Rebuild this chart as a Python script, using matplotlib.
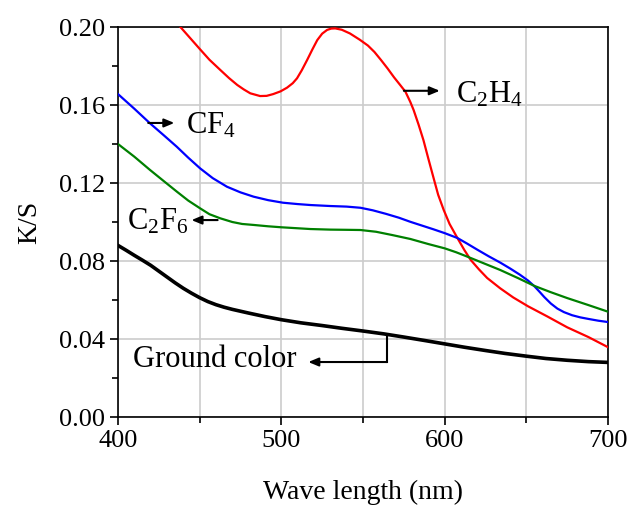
import matplotlib.pyplot as plt
from matplotlib.ticker import MultipleLocator

plt.rcParams['font.family'] = ['Liberation Serif', 'DejaVu Serif']
plt.rcParams['mathtext.fontset'] = 'custom'
plt.rcParams['mathtext.rm'] = 'Liberation Serif'
plt.rcParams['mathtext.it'] = 'Liberation Serif:italic'

# Ground color (black)
wl_ground = [400, 405, 410, 415, 420, 425, 430, 435, 440, 445, 450, 455, 460, 465, 470, 480, 490,
             500, 512, 525, 537, 550, 563, 575, 588, 600, 612, 625, 637, 650, 662, 675, 688, 700]
ks_ground = [0.0880, 0.0855, 0.0829, 0.0804, 0.0778, 0.0748, 0.0718, 0.0688, 0.0660, 0.0635,
             0.0612, 0.0592, 0.0576, 0.0563, 0.0552, 0.0533, 0.0515, 0.0499, 0.0483, 0.0469,
             0.0455, 0.0441, 0.0426, 0.0410, 0.0392, 0.0375, 0.0358, 0.0341, 0.0326, 0.0312,
             0.0300, 0.0291, 0.0284, 0.0280]

# C2H4 (red)
wl_c2h4 = [438, 444, 450, 456, 462.6, 468, 473, 477, 481, 487, 491, 495, 499.5, 503.5, 507,
           509.6, 512.5, 515.8, 519, 522, 525, 528, 530.5, 533, 537, 542, 548, 553, 557, 561,
           565, 569, 573, 576, 579, 581, 584, 587, 590, 593, 596, 599.4, 603, 607.8, 612, 616,
           621, 626, 634, 642, 651, 663, 675, 688, 700]
ks_c2h4 = [0.2002, 0.1945, 0.1888, 0.1832, 0.1780, 0.1738, 0.1703, 0.1680, 0.1660, 0.1646,
           0.1647, 0.1656, 0.1670, 0.1689, 0.1712, 0.1737, 0.1778, 0.1831, 0.1885, 0.1933,
           0.1966, 0.1985, 0.1992, 0.1993, 0.1986, 0.1967, 0.1935, 0.1905, 0.1872, 0.1831,
           0.1788, 0.1742, 0.1700, 0.1668, 0.1615, 0.1574, 0.1500, 0.1420, 0.1325, 0.1232,
           0.1140, 0.1062, 0.0990, 0.0918, 0.0857, 0.0805, 0.0757, 0.0713, 0.0660, 0.0613,
           0.0568, 0.0515, 0.0460, 0.0410, 0.0358]

# CF4 (blue)
wl_cf4 = [400, 410, 419.6, 428, 436, 443, 450.3, 458, 466.7, 475, 483, 492, 501, 510, 518, 530,
          540, 548.5, 556, 564, 572, 579, 586, 593, 600, 607.8, 614, 620, 627, 634, 640, 646,
          651, 655, 658, 661, 665, 669, 673, 678, 683, 688, 694, 700]
ks_cf4 = [0.1656, 0.1581, 0.1506, 0.1445, 0.1386, 0.1330, 0.1275, 0.1225, 0.1181, 0.1152,
          0.1130, 0.1112, 0.1099, 0.1092, 0.1087, 0.1082, 0.1079, 0.1073, 0.1060, 0.1042,
          0.1022, 0.1001, 0.0982, 0.0963, 0.0943, 0.0918, 0.0888, 0.0858, 0.0824, 0.0792,
          0.0762, 0.0730, 0.0700, 0.0670, 0.0643, 0.0615, 0.0582, 0.0556, 0.0538, 0.0522,
          0.0511, 0.0503, 0.0494, 0.0487]

# C2F6 (green)
wl_c2f6 = [400, 410, 419.6, 428, 436, 443, 450.3, 456, 462.6, 470, 476, 483, 492, 500, 517.8,
           530, 540, 548.5, 558, 568, 579, 590, 600, 607, 614, 624, 634, 645, 655, 665, 675,
           688, 700]
ks_c2f6 = [0.1400, 0.1335, 0.1267, 0.1210, 0.1156, 0.1110, 0.1070, 0.1040, 0.1019, 0.1000,
           0.0990, 0.0985, 0.0978, 0.0973, 0.0964, 0.0961, 0.0960, 0.0959, 0.0950, 0.0933,
           0.0913, 0.0887, 0.0865, 0.0845, 0.0822, 0.0788, 0.0754, 0.0712, 0.0672, 0.0640,
           0.0610, 0.0574, 0.0540]

fig = plt.figure(figsize=(6.3, 5.07), dpi=100)
ax = fig.add_axes([0.1873, 0.1775, 0.7778, 0.7692])

ax.plot(wl_c2h4, ks_c2h4, color='#ff0000', lw=1.6, zorder=3)
ax.plot(wl_cf4, ks_cf4, color='#0000ff', lw=1.6, zorder=3)
ax.plot(wl_c2f6, ks_c2f6, color='#008000', lw=1.6, zorder=3)
ax.plot(wl_ground, ks_ground, color='black', lw=2.6, zorder=3)

ax.set_xlim(400, 700)
ax.set_ylim(0, 0.20)
ax.xaxis.set_major_locator(MultipleLocator(100))
ax.xaxis.set_minor_locator(MultipleLocator(50))
ax.yaxis.set_major_locator(MultipleLocator(0.04))
ax.yaxis.set_minor_locator(MultipleLocator(0.02))
ax.yaxis.set_major_formatter(plt.FormatStrFormatter('%.2f'))
ax.tick_params(which='major', direction='out', length=6, width=1.2, labelsize=19)
ax.tick_params(which='minor', direction='out', length=4, width=1.2)
ax.tick_params(top=False, right=False)
ax.grid(True, which='major', color='#cccccc', lw=1.2, zorder=0)
ax.grid(True, which='minor', axis='x', color='#cccccc', lw=1.2, zorder=0)
ax.set_axisbelow(True)
for s in ax.spines.values():
    s.set_linewidth(1.2)

ax.set_xlabel('Wave length (nm)', fontsize=20, labelpad=20)
ax.set_ylabel('K/S', fontsize=20, labelpad=12)

arrow = dict(arrowstyle='-|>,head_length=0.6,head_width=0.25', color='black', lw=1.5,
             shrinkA=0, shrinkB=0)
ax.annotate('', xy=(597, 0.1673), xytext=(575, 0.1673), arrowprops=arrow)
ax.text(607, 0.1655, r'$\mathrm{C_2H_4}$', fontsize=22, va='center', ha='left')

ax.annotate('', xy=(434.5, 0.1508), xytext=(418.5, 0.1508), arrowprops=arrow)
ax.text(441.5, 0.1495, r'$\mathrm{CF_4}$', fontsize=22, va='center', ha='left')

ax.annotate('', xy=(445, 0.1010), xytext=(461, 0.1010), arrowprops=arrow)
ax.text(405.5, 0.1000, r'$\mathrm{C_2F_6}$', fontsize=22, va='center', ha='left')

ax.plot([564.5, 564.5], [0.0415, 0.0282], color='black', lw=1.5, zorder=4)
ax.annotate('', xy=(516.5, 0.0282), xytext=(564.5, 0.0282), arrowprops=arrow)
ax.text(409, 0.0297, 'Ground color', fontsize=22, va='center', ha='left')

fig.savefig('out.png', dpi=100)
